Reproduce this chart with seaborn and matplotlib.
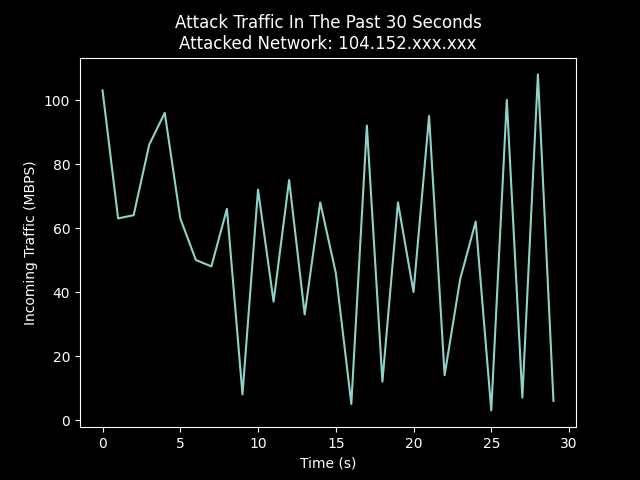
# attack traffic line chart, dark theme
import pandas as pd
import seaborn as sns
import matplotlib.pyplot as plt

# Data
seconds = list(range(30))
traffic_mbps = [103, 63, 64, 86, 96, 63, 50, 48, 66, 8,
                72, 37, 75, 33, 68, 46, 5, 92, 12, 68,
                40, 95, 14, 44, 62, 3, 100, 7, 108, 6]
network = '104.152.xxx.xxx'

df = pd.DataFrame({'Time (s)': seconds, 'Incoming Traffic (MBPS)': traffic_mbps})

plt.style.use('dark_background')
fig, ax = plt.subplots(figsize=(6.4, 4.8), dpi=100)
sns.lineplot(data=df, x='Time (s)', y='Incoming Traffic (MBPS)', color='#8dd3c7', ax=ax)
ax.set_title('Attack Traffic In The Past 30 Seconds\nAttacked Network: ' + network)
ax.set_xlabel('Time (s)')
ax.set_ylabel('Incoming Traffic (MBPS)')
plt.savefig('out.png')
